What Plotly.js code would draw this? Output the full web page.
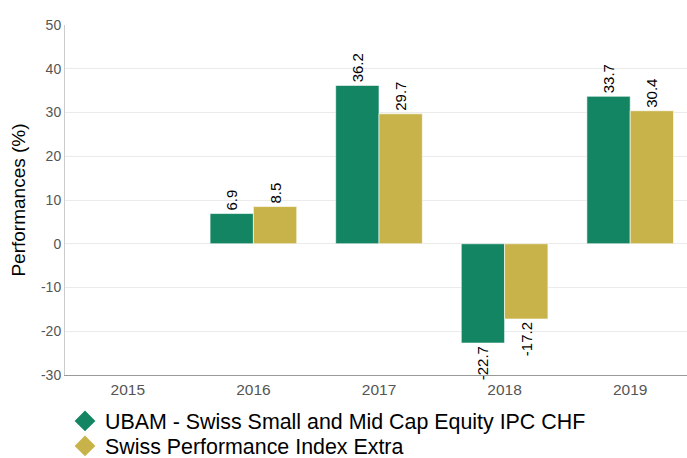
<!DOCTYPE html>
<html>
<head>
<meta charset="utf-8">
<script src="https://cdn.plot.ly/plotly-3.0.1.min.js"></script>
<style>html,body{margin:0;padding:0;background:#fff;overflow:hidden;}#chart{width:693px;height:458px;}</style>
</head>
<body>
<div id="chart"></div>
<script>
const categories = ['2015', '2016', '2017', '2018', '2019'];
const fundName = 'UBAM - Swiss Small and Mid Cap Equity IPC CHF';
const indexName = 'Swiss Performance Index Extra';
const fundValues = [null, 6.9, 36.2, -22.7, 33.7];
const indexValues = [null, 8.5, 29.7, -17.2, 30.4];
const yTicks = [-30, -20, -10, 0, 10, 20, 30, 40, 50];

const green = '#148562';
const gold = '#C7B34A';

function lbl(arr) { return arr.map(v => v === null ? '' : v.toFixed(1)); }

const traces = [
  {
    type: 'bar', x: categories, y: fundValues, name: fundName,
    marker: {color: green, line: {color: 'rgba(255,255,255,0.6)', width: 1}},
    text: lbl(fundValues), textposition: 'outside', textangle: -90,
    textfont: {family: 'Liberation Sans, Arial', size: 15, color: '#000'},
    cliponaxis: false, showlegend: false, hoverinfo: 'x+y'
  },
  {
    type: 'bar', x: categories, y: indexValues, name: indexName,
    marker: {color: gold, line: {color: 'rgba(255,255,255,0.6)', width: 1}},
    text: lbl(indexValues), textposition: 'outside', textangle: -90,
    textfont: {family: 'Liberation Sans, Arial', size: 15, color: '#000'},
    cliponaxis: false, showlegend: false, hoverinfo: 'x+y'
  },
  {
    type: 'scatter', mode: 'markers', x: [null], y: [null], name: fundName,
    marker: {symbol: 'diamond', color: green, size: 23}, showlegend: true, legend: 'legend'
  },
  {
    type: 'scatter', mode: 'markers', x: [null], y: [null], name: indexName,
    marker: {symbol: 'diamond', color: gold, size: 23}, showlegend: true, legend: 'legend2'
  }
];

const legendCommon = {
  orientation: 'v', x: 0, xanchor: 'left', yref: 'container', yanchor: 'top',
  font: {size: 21.4, color: '#000'}, itemwidth: 30, bgcolor: 'rgba(0,0,0,0)'
};

const layout = {
  width: 693, height: 458,
  margin: {l: 65, r: 0, t: 25, b: 83},
  paper_bgcolor: '#fff', plot_bgcolor: '#fff',
  font: {family: 'Liberation Sans, Arial, sans-serif', color: '#555'},
  barmode: 'group', bargap: 0.31, bargroupgap: 0,
  xaxis: {
    type: 'category', categoryarray: categories, categoryorder: 'array',
    showline: true, linecolor: '#999', linewidth: 1, showgrid: false,
    ticks: '', tickfont: {size: 15.5, color: '#555'}, zeroline: false, automargin: false
  },
  yaxis: {
    range: [-30, 50], tickmode: 'array', tickvals: yTicks,
    ticktext: yTicks.map(v => String(v)),
    showline: true, linecolor: '#ccc', linewidth: 1,
    showgrid: true, gridcolor: '#ebebeb', gridwidth: 1,
    zeroline: true, zerolinecolor: '#ebebeb', zerolinewidth: 1,
    ticks: '', tickfont: {size: 14, color: '#555'}, automargin: false,
    title: {text: 'Performances (%)', font: {size: 19, color: '#000'}, standoff: 10}
  },
  legend: Object.assign({}, legendCommon, {y: 0.1255}),
  legend2: Object.assign({}, legendCommon, {y: 0.071}),
  showlegend: true
};

Plotly.newPlot('chart', traces, layout, {displayModeBar: false, staticPlot: true});
</script>
</body>
</html>
